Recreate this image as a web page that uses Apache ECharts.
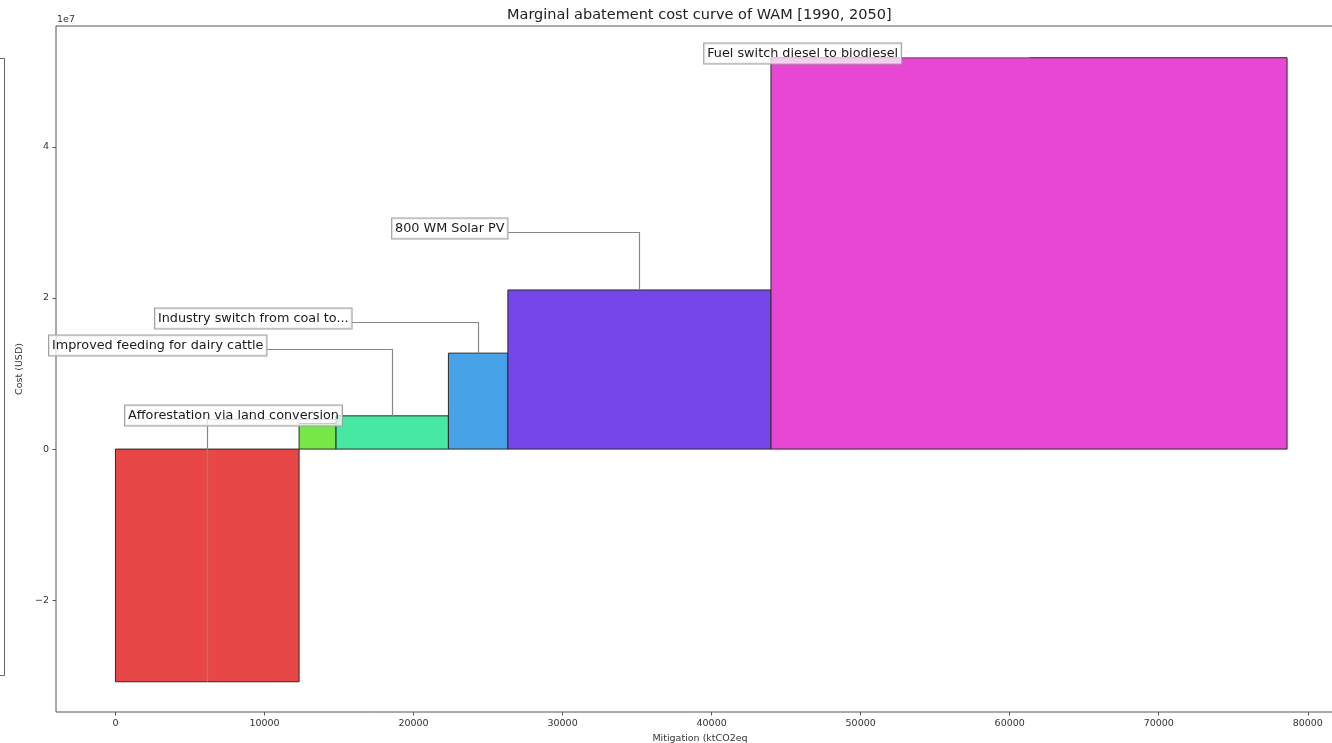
<!DOCTYPE html>
<html>
<head>
<meta charset="utf-8">
<script src="https://cdn.jsdelivr.net/npm/echarts@6/dist/echarts.min.js"></script>
<style>
  html, body { margin: 0; padding: 0; background: #ffffff; }
  #chart { width: 1332px; height: 743px; }
</style>
</head>
<body>
<div id="chart"></div>
<script>
// Abatement measures, in order of increasing marginal cost
const labels = [
  'Afforestation via land conversion',
  null,
  'Improved feeding for dairy cattle',
  'Industry switch from coal to...',
  '800 WM Solar PV',
  'Fuel switch diesel to biodiesel'
];
// Mitigation potential of each measure (ktCO2eq) -> bar width
const mitigation = [12320, 2480, 7540, 3990, 17650, 34630];
// Cost of each measure (USD) -> bar height
const cost = [-30.8e6, 3.4e6, 4.4e6, 12.7e6, 21.06e6, 51.8e6];

const xTicks = [0, 10000, 20000, 30000, 40000, 50000, 60000, 70000, 80000];
const yTicks = [-2e7, 0, 2e7, 4e7];

const barColors = ['#E84747', '#75E847', '#47E8A2', '#47A2E8', '#7547E8', '#E847D3'];

// Callout placement: left edge of the text box (x, data units) and height of the leader line (y, data units)
const calloutSpots = [
  [640, 3.97e6],
  null,
  [-4460, 13.25e6],
  [2650, 16.82e6],
  [18560, 28.74e6],
  [39500, 51.9e6]
];

const FONT_FAMILY = '"DejaVu Sans", "Liberation Sans", sans-serif';
const LABEL_FONT = '12.8px ' + FONT_FAMILY;

// cumulative x extents of each bar
const starts = [];
const ends = [];
let acc = 0;
mitigation.forEach(function (w) { starts.push(acc); acc += w; ends.push(acc); });

const barData = mitigation.map(function (w, i) { return [starts[i], ends[i], cost[i]]; });

const calloutData = [];
labels.forEach(function (t, i) {
  if (t && calloutSpots[i]) {
    calloutData.push([(starts[i] + ends[i]) / 2, cost[i], calloutSpots[i][0], calloutSpots[i][1], i]);
  }
});

const measureCtx = document.createElement('canvas').getContext('2d');
function textWidth(t) {
  measureCtx.font = LABEL_FONT;
  return measureCtx.measureText(t).width;
}

const chart = echarts.init(document.getElementById('chart'), null, { renderer: 'canvas' });

const option = {
  animation: false,
  backgroundColor: '#ffffff',
  title: {
    text: 'Marginal abatement cost curve of WAM [1990, 2050]',
    left: 502,
    top: 3,
    textStyle: { fontFamily: FONT_FAMILY, fontSize: 14.5, fontWeight: 'normal', color: '#222' }
  },
  grid: {
    left: 56,
    top: 26,
    width: 1288,
    height: 686,
    outerBoundsMode: 'none',
    containLabel: false,
    show: true,
    borderColor: '#555',
    borderWidth: 1,
    backgroundColor: 'transparent'
  },
  xAxis: {
    type: 'value',
    min: -3990,
    max: 82430,
    name: 'Mitigation (ktCO2eq',
    nameLocation: 'middle',
    nameGap: 21,
    nameTextStyle: { fontFamily: FONT_FAMILY, fontSize: 9.5, color: '#333' },
    axisLine: { show: false, onZero: false },
    splitLine: { show: false },
    axisTick: { show: true, inside: false, length: 3.5, customValues: xTicks, lineStyle: { color: '#555' } },
    axisLabel: {
      customValues: xTicks,
      margin: 7,
      fontFamily: FONT_FAMILY,
      fontSize: 9.5,
      color: '#333',
      formatter: function (v) { return String(v); }
    }
  },
  yAxis: {
    type: 'value',
    min: -34.8e6,
    max: 56.0e6,
    name: 'Cost (USD)',
    nameLocation: 'middle',
    nameGap: 24,
    nameTextStyle: { fontFamily: FONT_FAMILY, fontSize: 9.5, color: '#333' },
    axisLine: { show: false, onZero: false },
    splitLine: { show: false },
    axisTick: { show: true, inside: false, length: 3.5, customValues: yTicks, lineStyle: { color: '#555' } },
    axisLabel: {
      customValues: yTicks,
      margin: 7,
      fontFamily: FONT_FAMILY,
      fontSize: 9.5,
      color: '#333',
      formatter: function (v) {
        const s = v / 1e7;
        return s < 0 ? '\u2212' + Math.abs(s) : String(s);
      }
    }
  },
  graphic: [
    {
      type: 'text',
      left: 57,
      top: 15,
      style: { text: '1e7', font: '9.5px ' + FONT_FAMILY, fill: '#333' }
    },
    {
      type: 'polyline',
      shape: { points: [[0, 58.5], [4.5, 58.5], [4.5, 675.5], [0, 675.5]] },
      style: { stroke: '#666', lineWidth: 1, fill: null }
    }
  ],
  series: [
    {
      type: 'custom',
      name: 'measures',
      data: barData,
      encode: { x: [0, 1], y: 2 },
      z: 1,
      renderItem: function (params, api) {
        const i = params.dataIndex;
        const p0 = api.coord([api.value(0), 0]);
        const p1 = api.coord([api.value(1), api.value(2)]);
        const x = Math.min(p0[0], p1[0]);
        const y = Math.min(p0[1], p1[1]);
        return {
          type: 'rect',
          shape: { x: x, y: y, width: Math.abs(p1[0] - p0[0]), height: Math.abs(p1[1] - p0[1]) },
          style: { fill: barColors[i], stroke: '#2a2a2a', lineWidth: 1 }
        };
      }
    },
    {
      type: 'custom',
      name: 'callouts',
      data: calloutData,
      encode: { x: [0, 2], y: [1, 3] },
      clip: false,
      z: 10,
      renderItem: function (params, api) {
        const idx = api.value(4);
        const text = labels[idx];
        const pt = api.coord([api.value(0), api.value(1)]);
        const anchor = api.coord([api.value(2), api.value(3)]);
        const padL = 3, padR = 3;
        const boxRight = anchor[0] + padL + textWidth(text) + padR;
        const lineY = Math.round(anchor[1]) + 0.5;
        const px = Math.round(pt[0]) + 0.5;
        return {
          type: 'group',
          children: [
            {
              type: 'polyline',
              z2: 1,
              shape: { points: [[boxRight, lineY], [px, lineY], [px, pt[1]]] },
              style: { stroke: '#888888', lineWidth: 1.2, fill: null, opacity: 1 }
            },
            {
              type: 'text',
              z2: 2,
              x: anchor[0],
              y: lineY + 6,
              style: {
                text: text,
                font: LABEL_FONT,
                fill: '#1a1a1a',
                align: 'left',
                verticalAlign: 'bottom',
                backgroundColor: 'rgba(255,255,255,0.72)',
                borderColor: '#a0a0a0',
                borderWidth: 1,
                padding: [4, padR, 3, padL]
              }
            }
          ]
        };
      }
    }
  ]
};

chart.setOption(option);
</script>
</body>
</html>
